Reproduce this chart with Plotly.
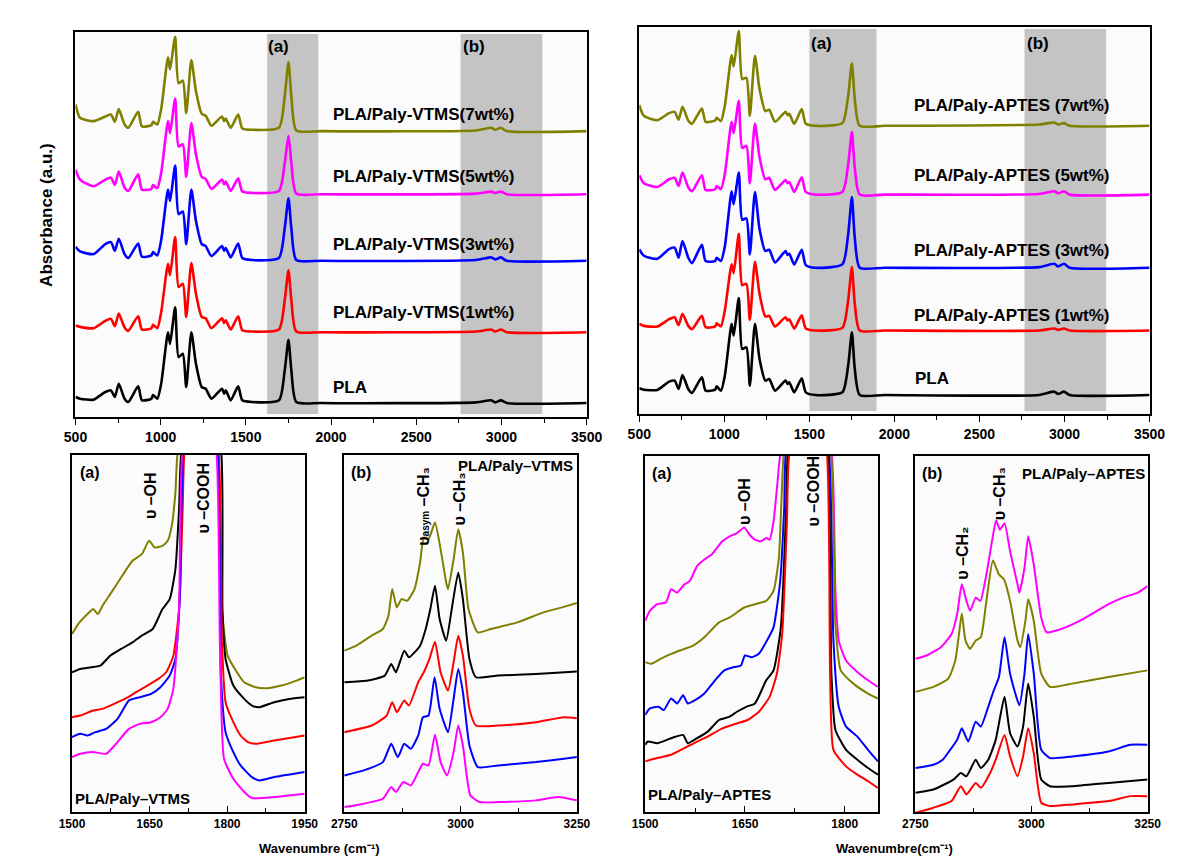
import plotly.graph_objects as go

# ---------------- Top panels: full FTIR spectra ----------------
WN_TOP = [500, 527, 606, 675, 708, 731, 754, 788, 810, 868, 890, 946, 955, 980, 1003,
          1043, 1055, 1085, 1105, 1130, 1150, 1180, 1207, 1241, 1264, 1298, 1360, 1372,
          1382, 1411, 1455, 1479, 1536, 1694, 1728, 1750, 1767, 1796, 1943, 2850, 2940,
          2963, 2997, 3031, 3500]

VTMS_PLA = [0.09, 0.065, 0.05, 0.165, 0.19, 0.09, 0.29, 0.065, 0.015, 0.25, 0.04, 0.065, 0.12, 0.065, 0.29,
            1.065, 0.89, 1.44, 0.69, 0.74, 0.24, 1.065, 0.59, 0.24, 0.215, 0.065, 0.215, 0.14,
            0.19, 0.04, 0.25, 0.04, 0.015, 0.04, 0.49, 0.95, 0.49, 0.015, 0.0, 0.01, 0.04,
            0.01, 0.04, 0.0, 0.0]
VTMS_1 = [0.10, 0.08, 0.06, 0.17, 0.20, 0.09, 0.28, 0.07, 0.02, 0.24, 0.04, 0.06, 0.11, 0.06, 0.30,
          1.03, 0.86, 1.43, 0.68, 0.73, 0.23, 1.04, 0.58, 0.23, 0.21, 0.06, 0.21, 0.14,
          0.18, 0.04, 0.24, 0.03, 0.01, 0.04, 0.48, 0.93, 0.48, 0.01, 0.0, 0.01, 0.04,
          0.01, 0.04, 0.0, 0.0]
VTMS_3 = [0.21, 0.14, 0.10, 0.25, 0.28, 0.15, 0.33, 0.10, 0.04, 0.26, 0.06, 0.08, 0.13, 0.08, 0.31,
          1.07, 0.90, 1.43, 0.70, 0.74, 0.25, 1.07, 0.60, 0.25, 0.22, 0.07, 0.22, 0.15,
          0.19, 0.05, 0.26, 0.04, 0.01, 0.04, 0.49, 0.94, 0.49, 0.01, 0.0, 0.01, 0.05,
          0.02, 0.05, 0.0, 0.0]
VTMS_5 = [0.37, 0.22, 0.12, 0.22, 0.25, 0.14, 0.34, 0.10, 0.05, 0.30, 0.07, 0.08, 0.14, 0.09, 0.32,
          1.10, 0.92, 1.44, 0.72, 0.75, 0.26, 1.07, 0.60, 0.26, 0.23, 0.08, 0.22, 0.15,
          0.19, 0.05, 0.24, 0.04, 0.02, 0.05, 0.47, 0.88, 0.47, 0.01, 0.0, 0.01, 0.04,
          0.02, 0.04, 0.0, 0.0]
VTMS_7 = [0.40, 0.20, 0.15, 0.22, 0.25, 0.14, 0.33, 0.10, 0.05, 0.29, 0.07, 0.09, 0.14, 0.10, 0.33,
          1.11, 0.93, 1.42, 0.72, 0.76, 0.27, 1.07, 0.60, 0.26, 0.23, 0.08, 0.22, 0.15,
          0.19, 0.05, 0.25, 0.04, 0.02, 0.05, 0.52, 1.04, 0.52, 0.01, 0.0, 0.01, 0.05,
          0.02, 0.05, 0.0, 0.0]
VTMS_OFFSETS = [0.0, 1.065, 2.14, 3.14, 4.09]

APTES_PLA = [0.10, 0.08, 0.075, 0.20, 0.215, 0.09, 0.30, 0.09, 0.03, 0.265, 0.065, 0.08, 0.13, 0.065, 0.29,
             1.065, 0.89, 1.45, 0.69, 0.715, 0.14, 1.065, 0.54, 0.215, 0.24, 0.065, 0.215, 0.165,
             0.19, 0.04, 0.25, 0.04, 0.0, 0.04, 0.44, 0.94, 0.39, 0.0, 0.0, 0.0, 0.05,
             0.015, 0.05, 0.0, 0.0]
APTES_1 = [0.10, 0.07, 0.06, 0.17, 0.20, 0.08, 0.25, 0.07, 0.02, 0.22, 0.05, 0.06, 0.11, 0.06, 0.30,
           0.99, 0.86, 1.45, 0.68, 0.70, 0.16, 1.03, 0.55, 0.21, 0.22, 0.06, 0.20, 0.15,
           0.17, 0.03, 0.23, 0.03, 0.0, 0.04, 0.45, 0.95, 0.40, 0.0, 0.0, 0.0, 0.03,
           0.01, 0.03, 0.0, 0.0]
APTES_3 = [0.275, 0.18, 0.135, 0.28, 0.30, 0.15, 0.40, 0.15, 0.07, 0.345, 0.10, 0.10, 0.15, 0.10, 0.32,
           1.145, 0.95, 1.425, 0.72, 0.74, 0.20, 1.135, 0.58, 0.25, 0.27, 0.08, 0.25, 0.19,
           0.21, 0.05, 0.27, 0.04, 0.0, 0.05, 0.50, 1.06, 0.45, 0.0, 0.0, 0.01, 0.06,
           0.02, 0.06, 0.0, 0.0]
APTES_5 = [0.29, 0.17, 0.115, 0.23, 0.25, 0.13, 0.33, 0.11, 0.05, 0.29, 0.07, 0.08, 0.13, 0.08, 0.31,
           1.09, 0.92, 1.405, 0.70, 0.73, 0.17, 1.065, 0.56, 0.23, 0.25, 0.07, 0.22, 0.17,
           0.19, 0.04, 0.26, 0.04, 0.0, 0.04, 0.45, 0.94, 0.40, 0.0, 0.0, 0.01, 0.05,
           0.02, 0.05, 0.0, 0.0]
APTES_7 = [0.31, 0.15, 0.085, 0.19, 0.21, 0.09, 0.285, 0.08, 0.03, 0.26, 0.06, 0.08, 0.12, 0.07, 0.30,
           1.06, 0.89, 1.42, 0.70, 0.72, 0.15, 1.05, 0.55, 0.22, 0.24, 0.06, 0.21, 0.16,
           0.18, 0.03, 0.25, 0.03, 0.0, 0.04, 0.45, 0.935, 0.40, 0.0, 0.0, 0.02, 0.05,
           0.02, 0.04, 0.0, 0.0]
APTES_OFFSETS = [0.0, 0.965, 1.905, 3.0, 4.03]

VTMS_LABELS = ["PLA", "PLA/Paly-VTMS(1wt%)", "PLA/Paly-VTMS(3wt%)", "PLA/Paly-VTMS(5wt%)", "PLA/Paly-VTMS(7wt%)"]
VTMS_LABEL_Y = [0.24, 1.365, 2.39, 3.4, 4.34]
APTES_LABELS = ["PLA", "PLA/Paly-APTES (1wt%)", "PLA/Paly-APTES (3wt%)", "PLA/Paly-APTES (5wt%)", "PLA/Paly-APTES (7wt%)"]
APTES_LABEL_Y = [0.24, 1.19, 2.165, 3.29, 4.33]

# ---------------- Bottom panel 1: VTMS, 1500-1950 ----------------
V_A_OLIVE_X = [1500, 1512, 1530, 1541, 1550, 1559, 1574, 1595, 1617, 1635, 1649, 1660, 1675, 1685, 1693, 1700, 1705,
               1750, 1781, 1790, 1801, 1819, 1833, 1855, 1876, 1905, 1934, 1950]
V_A_OLIVE_Y = [5.35, 5.65, 5.95, 6.10, 5.95, 6.20, 6.55, 7.05, 7.55, 7.75, 8.15, 7.95, 8.00, 8.15, 8.60, 9.60, 10.9,
               13, 10.9, 6.10, 4.70, 4.20, 3.90, 3.75, 3.72, 3.80, 3.95, 4.05]
V_A_BLACK_X = [1500, 1516, 1537, 1555, 1574, 1595, 1617, 1635, 1656, 1675, 1689, 1700, 1707, 1712,
               1750, 1788, 1791, 1797, 1812, 1833, 1848, 1862, 1891, 1920, 1950]
V_A_BLACK_Y = [4.20, 4.30, 4.35, 4.40, 4.70, 4.90, 5.10, 5.30, 5.50, 6.10, 6.40, 7.30, 9.10, 10.9,
               13, 10.9, 6.10, 4.60, 3.80, 3.40, 3.20, 3.15, 3.30, 3.40, 3.45]
V_A_RED_X = [1500, 1516, 1541, 1559, 1574, 1602, 1624, 1646, 1667, 1682, 1696, 1707, 1714, 1718,
             1750, 1783, 1790, 1797, 1812, 1826, 1840, 1855, 1891, 1950]
V_A_RED_Y = [2.85, 2.90, 3.05, 3.10, 3.20, 3.40, 3.60, 3.80, 4.00, 4.20, 4.70, 6.10, 9.10, 10.9,
             13, 10.9, 5.10, 3.30, 2.70, 2.30, 2.10, 2.05, 2.15, 2.30]
V_A_BLUE_X = [1500, 1516, 1530, 1545, 1566, 1588, 1610, 1631, 1653, 1671, 1689, 1700, 1709, 1716,
              1750, 1781, 1788, 1797, 1812, 1826, 1848, 1862, 1891, 1950]
V_A_BLUE_Y = [2.25, 2.35, 2.30, 2.40, 2.50, 2.80, 3.35, 3.45, 3.55, 3.75, 4.10, 4.60, 6.60, 10.9,
              13, 10.9, 4.10, 2.40, 1.80, 1.40, 1.05, 0.95, 1.05, 1.20]
V_A_MAG_X = [1500, 1516, 1541, 1566, 1588, 1610, 1631, 1653, 1671, 1685, 1696, 1707, 1714,
             1750, 1779, 1786, 1794, 1812, 1833, 1848, 1891, 1950]
V_A_MAG_Y = [1.65, 1.75, 1.80, 1.75, 2.10, 2.50, 2.65, 2.70, 2.85, 3.10, 3.70, 6.10, 10.9,
             13, 10.9, 5.10, 1.60, 1.00, 0.60, 0.42, 0.45, 0.55]

# ---------------- Bottom panel 2: VTMS, 2750-3250 ----------------
V_B_OLIVE_X = [2750, 2776, 2809, 2833, 2845, 2853, 2863, 2873, 2885, 2901, 2913, 2921, 2931, 2945, 2957, 2969,
               2973, 2985, 2995, 3005, 3017, 3037, 3065, 3122, 3178, 3218, 3250]
V_B_OLIVE_Y = [4.85, 5.00, 5.30, 5.50, 5.90, 6.70, 6.15, 6.40, 6.35, 6.70, 7.50, 8.25, 8.20, 8.70, 7.90, 6.90,
               6.70, 7.60, 8.50, 7.80, 6.10, 5.40, 5.50, 5.70, 6.00, 6.15, 6.28]
V_B_BLACK_X = [2750, 2801, 2837, 2851, 2861, 2879, 2889, 2913, 2925, 2935, 2945, 2955, 2969, 2981, 2995, 3005,
               3019, 3033, 3081, 3162, 3250]
V_B_BLACK_Y = [3.90, 3.95, 4.10, 4.45, 4.20, 4.85, 4.65, 5.00, 5.50, 6.10, 6.80, 5.80, 5.15, 6.10, 7.20, 6.40,
               4.60, 4.05, 4.10, 4.15, 4.22]
V_B_RED_X = [2750, 2809, 2841, 2853, 2863, 2879, 2889, 2909, 2921, 2933, 2945, 2957, 2973, 2985, 2995, 3005,
             3019, 3033, 3081, 3162, 3222, 3250]
V_B_RED_Y = [2.40, 2.60, 2.90, 3.30, 3.00, 3.35, 3.20, 3.90, 4.20, 4.60, 5.12, 4.20, 3.65, 4.50, 5.30, 4.70,
             3.10, 2.60, 2.60, 2.70, 2.85, 2.82]
V_B_BLUE_X = [2750, 2792, 2833, 2851, 2865, 2879, 2893, 2909, 2919, 2931, 2944, 2955, 2973, 2985, 2995, 3005,
              3019, 3037, 3081, 3162, 3222, 3250]
V_B_BLUE_Y = [1.10, 1.25, 1.50, 2.05, 1.65, 2.05, 1.90, 2.30, 2.85, 2.90, 4.05, 3.10, 2.40, 3.40, 4.30, 3.60,
              2.00, 1.35, 1.40, 1.50, 1.60, 1.65]
V_B_MAG_X = [2750, 2792, 2833, 2851, 2861, 2877, 2893, 2909, 2919, 2931, 2945, 2957, 2971, 2985, 2995, 3005,
             3021, 3041, 3081, 3162, 3210, 3250]
V_B_MAG_Y = [0.15, 0.25, 0.40, 0.75, 0.60, 0.90, 0.80, 1.20, 1.45, 1.40, 2.32, 1.50, 1.10, 1.80, 2.60, 2.00,
             0.50, 0.30, 0.30, 0.35, 0.45, 0.35]

# ---------------- Bottom panel 3: APTES, 1500-1850 ----------------
A_A_MAG_X = [1500, 1507, 1518, 1531, 1539, 1548, 1559, 1567, 1578, 1589, 1600, 1616, 1627, 1638, 1649, 1657,
             1665, 1674, 1682, 1687, 1693, 1699, 1704, 1750, 1780, 1786, 1791, 1802, 1819, 1835, 1850]
A_A_MAG_Y = [5.78, 6.08, 6.28, 6.33, 6.73, 6.63, 6.88, 6.98, 7.43, 7.63, 7.78, 8.18, 8.33, 8.43, 8.60, 8.38,
             8.23, 8.18, 8.28, 8.23, 8.78, 9.98, 10.9, 13, 10.9, 6.68, 5.18, 4.58, 4.23, 3.98, 3.78]
A_A_OLIVE_X = [1500, 1509, 1523, 1539, 1559, 1572, 1589, 1611, 1627, 1649, 1665, 1682, 1693, 1701, 1706, 1709,
               1750, 1779, 1786, 1794, 1813, 1835, 1850]
A_A_OLIVE_Y = [4.53, 4.48, 4.63, 4.78, 4.93, 5.03, 5.28, 5.73, 5.88, 6.18, 6.28, 6.38, 6.68, 7.68, 9.98, 10.9,
               13, 10.9, 5.68, 4.28, 3.88, 3.58, 3.43]
A_A_BLUE_X = [1500, 1507, 1520, 1528, 1539, 1548, 1557, 1564, 1575, 1589, 1605, 1619, 1634, 1644, 1650, 1660,
              1671, 1683, 1693, 1703, 1709, 1712, 1750, 1776, 1783, 1791, 1802, 1819, 1835, 1850]
A_A_BLUE_Y = [2.93, 3.13, 3.18, 3.08, 3.43, 3.28, 3.53, 3.28, 3.38, 3.58, 3.98, 4.28, 4.38, 4.43, 4.73, 4.68,
              4.78, 5.18, 5.58, 6.98, 9.18, 10.9, 13, 10.9, 5.18, 3.18, 2.58, 2.28, 1.88, 1.53]
A_A_BLACK_X = [1500, 1504, 1518, 1539, 1557, 1564, 1578, 1594, 1611, 1627, 1638, 1652, 1665, 1682, 1693, 1704,
               1712, 1715, 1750, 1774, 1780, 1786, 1802, 1819, 1835, 1850]
A_A_BLACK_Y = [2.03, 2.13, 2.08, 2.23, 2.33, 2.08, 2.23, 2.43, 2.78, 2.88, 3.03, 3.18, 3.28, 3.98, 4.28, 5.58,
               9.18, 10.9, 13, 10.9, 4.18, 2.48, 1.88, 1.58, 1.33, 1.13]
A_A_RED_X = [1500, 1518, 1539, 1559, 1578, 1594, 1616, 1638, 1654, 1671, 1687, 1698, 1706, 1713, 1717,
             1750, 1773, 1778, 1783, 1802, 1819, 1835, 1850]
A_A_RED_Y = [1.53, 1.63, 1.73, 1.93, 2.13, 2.28, 2.53, 2.68, 2.78, 3.03, 3.48, 4.18, 5.38, 8.68, 10.9,
             13, 10.9, 4.18, 1.88, 1.38, 1.13, 0.93, 0.73]

# ---------------- Bottom panel 4: APTES, 2750-3250 ----------------
A_B_MAG_X = [2750, 2774, 2805, 2828, 2840, 2850, 2860, 2868, 2880, 2890, 2903, 2915, 2924, 2932, 2942, 2954,
             2970, 2974, 2985, 2993, 3005, 3021, 3033, 3064, 3111, 3166, 3197, 3229, 3250]
A_B_MAG_Y = [4.63, 4.73, 4.98, 5.38, 5.98, 6.88, 6.38, 6.08, 6.48, 6.38, 7.18, 8.18, 8.81, 8.53, 8.73, 7.88,
             6.88, 6.63, 7.38, 8.33, 7.48, 5.88, 5.43, 5.53, 5.83, 6.28, 6.48, 6.63, 6.83]
A_B_OLIVE_X = [2750, 2789, 2821, 2836, 2844, 2850, 2858, 2868, 2880, 2891, 2903, 2917, 2930, 2941, 2954, 2970,
               2976, 2987, 2993, 3005, 3021, 3040, 3088, 3166, 3250]
A_B_OLIVE_Y = [3.63, 3.78, 4.03, 4.58, 5.38, 6.00, 5.18, 4.93, 5.18, 5.28, 6.38, 7.60, 7.18, 7.03, 6.38, 5.18,
               4.98, 5.78, 6.43, 5.78, 4.18, 3.78, 3.88, 4.08, 4.28]
A_B_BLUE_X = [2750, 2789, 2809, 2825, 2840, 2850, 2864, 2880, 2891, 2907, 2919, 2930, 2942, 2954, 2974, 2985,
              2993, 3005, 3021, 3040, 3088, 3166, 3213, 3250]
A_B_BLUE_Y = [1.33, 1.43, 1.58, 1.88, 2.18, 2.53, 2.13, 2.73, 2.58, 3.18, 3.68, 4.08, 5.28, 4.18, 3.23, 4.18,
              5.38, 4.18, 1.88, 1.63, 1.68, 1.83, 2.03, 2.03]
A_B_BLACK_X = [2750, 2789, 2832, 2848, 2860, 2880, 2891, 2907, 2923, 2942, 2954, 2970, 2982, 2993, 3005, 3021,
               3040, 3088, 3166, 3250]
A_B_BLACK_Y = [0.58, 0.68, 0.98, 1.18, 1.08, 1.58, 1.33, 1.58, 2.18, 3.48, 2.38, 1.98, 2.58, 3.88, 2.88, 0.98,
               0.78, 0.78, 0.88, 0.98]
A_B_RED_X = [2750, 2789, 2828, 2848, 2860, 2880, 2891, 2911, 2923, 2942, 2954, 2970, 2982, 2993, 3005, 3021,
             3040, 3088, 3166, 3213, 3250]
A_B_RED_Y = [-0.02, 0.13, 0.33, 0.78, 0.53, 0.88, 0.73, 1.18, 1.58, 2.33, 1.68, 1.08, 1.68, 2.53, 1.78, 0.28,
             0.18, 0.23, 0.33, 0.48, 0.48]

# ---------------- styles ----------------
BLACK, RED, BLUE, MAG, OLIVE = "#000000", "#ff0000", "#0000ff", "#ff00ff", "#808000"
TOP_COLORS = [BLACK, RED, BLUE, MAG, OLIVE]
FONT = "Liberation Sans, Arial, sans-serif"
BAND = "#c4c4c4"

fig = go.Figure()

# top traces
for vals, off, col in zip([VTMS_PLA, VTMS_1, VTMS_3, VTMS_5, VTMS_7], VTMS_OFFSETS, TOP_COLORS):
    fig.add_trace(go.Scatter(x=WN_TOP, y=[v + off for v in vals], mode="lines",
                             line=dict(color=col, width=2.6, shape="spline", smoothing=0.6),
                             xaxis="x", yaxis="y", showlegend=False, hoverinfo="skip"))
for vals, off, col in zip([APTES_PLA, APTES_1, APTES_3, APTES_5, APTES_7], APTES_OFFSETS, TOP_COLORS):
    fig.add_trace(go.Scatter(x=WN_TOP, y=[v + off for v in vals], mode="lines",
                             line=dict(color=col, width=2.6, shape="spline", smoothing=0.6),
                             xaxis="x2", yaxis="y2", showlegend=False, hoverinfo="skip"))

bottom_sets = [
    ("x3", "y3", [(V_A_OLIVE_X, V_A_OLIVE_Y, OLIVE), (V_A_BLACK_X, V_A_BLACK_Y, BLACK),
                  (V_A_RED_X, V_A_RED_Y, RED), (V_A_BLUE_X, V_A_BLUE_Y, BLUE), (V_A_MAG_X, V_A_MAG_Y, MAG)]),
    ("x4", "y4", [(V_B_OLIVE_X, V_B_OLIVE_Y, OLIVE), (V_B_BLACK_X, V_B_BLACK_Y, BLACK),
                  (V_B_RED_X, V_B_RED_Y, RED), (V_B_BLUE_X, V_B_BLUE_Y, BLUE), (V_B_MAG_X, V_B_MAG_Y, MAG)]),
    ("x5", "y5", [(A_A_MAG_X, A_A_MAG_Y, MAG), (A_A_OLIVE_X, A_A_OLIVE_Y, OLIVE),
                  (A_A_BLUE_X, A_A_BLUE_Y, BLUE), (A_A_BLACK_X, A_A_BLACK_Y, BLACK), (A_A_RED_X, A_A_RED_Y, RED)]),
    ("x6", "y6", [(A_B_MAG_X, A_B_MAG_Y, MAG), (A_B_OLIVE_X, A_B_OLIVE_Y, OLIVE),
                  (A_B_BLUE_X, A_B_BLUE_Y, BLUE), (A_B_BLACK_X, A_B_BLACK_Y, BLACK), (A_B_RED_X, A_B_RED_Y, RED)]),
]
for xa, ya, curves in bottom_sets:
    for xs, ys, col in curves:
        fig.add_trace(go.Scatter(x=xs, y=ys, mode="lines",
                                 line=dict(color=col, width=2, shape="spline", smoothing=0.5),
                                 xaxis=xa, yaxis=ya, showlegend=False, hoverinfo="skip"))

# ---------------- axes ----------------
def xax(domain, anchor, rng, dtick, tick0, minor_dtick, size, ticks):
    return dict(domain=domain, anchor=anchor, range=rng, showline=True, linecolor="black", linewidth=1.5,
                mirror=True, showgrid=False, zeroline=False, ticks=ticks, ticklen=6, tickwidth=1.2,
                tickcolor="black", dtick=dtick, tick0=tick0,
                minor=dict(dtick=minor_dtick, tick0=tick0, ticks=ticks, ticklen=4, tickcolor="black", showgrid=False),
                tickfont=dict(family=FONT, size=size, color="black", weight="bold"))

def yax(domain, anchor, rng):
    return dict(domain=domain, anchor=anchor, range=rng, showline=True, linecolor="black", linewidth=1.5,
                mirror=True, showgrid=False, zeroline=False, showticklabels=False, ticks="")

Y_TOP_L = [0.5146, 0.9627]
Y_TOP_R = [0.5180, 0.9686]
Y_BOT = [0.0547, 0.4703]
Y_BOT_R = [0.0547, 0.4692]

fig.update_layout(
    width=1186, height=859, margin=dict(l=0, r=0, t=0, b=0),
    paper_bgcolor="white", plot_bgcolor="#fbfbfb",
    font=dict(family=FONT, color="black"),
    xaxis=xax([0.0540, 0.4958], "y", [500, 3500], 500, 500, 250, 14, "outside"),
    yaxis=yax(Y_TOP_L, "x", [-0.21, 5.58]),
    xaxis2=xax([0.5413, 0.9823], "y2", [500, 3500], 500, 500, 250, 14, "outside"),
    yaxis2=yax(Y_TOP_R, "x2", [-0.285, 5.51]),
    xaxis3=xax([0.0510, 0.2521], "y3", [1500, 1950], 150, 1500, 75, 12, "inside"),
    yaxis3=yax(Y_BOT, "x3", [0, 10.73]),
    xaxis4=xax([0.2863, 0.4874], "y4", [2750, 3250], 250, 2750, 125, 12, "inside"),
    yaxis4=yax(Y_BOT, "x4", [0, 10.73]),
    xaxis5=xax([0.5464, 0.7476], "y5", [1500, 1850], 150, 1500, 75, 12, "inside"),
    yaxis5=yax(Y_BOT_R, "x5", [0, 10.76]),
    xaxis6=xax([0.7799, 0.9806], "y6", [2750, 3250], 250, 2750, 125, 12, "inside"),
    yaxis6=yax(Y_BOT_R, "x6", [0, 10.76]),
)

# ---------------- gray bands ----------------
BANDS = [("x", "y", 1625, 1925), ("x", "y", 2760, 3240), ("x2", "y2", 1500, 1895), ("x2", "y2", 2765, 3245)]
for xr, yr, a, b in BANDS:
    fig.add_shape(type="rect", xref=xr, yref=yr + " domain", x0=a, x1=b, y0=0.008, y1=0.995,
                  fillcolor=BAND, line=dict(width=0), layer="below")

ann = []
def txt(x, y, t, xref, yref, size, angle=0, xanchor="center", yanchor="middle"):
    ann.append(dict(x=x, y=y, text=t, xref=xref, yref=yref, showarrow=False, textangle=angle,
                    xanchor=xanchor, yanchor=yanchor,
                    font=dict(family=FONT, size=size, color="black", weight="bold")))

# top panel texts
txt(1690, 5.37, "(a)", "x", "y", 17)
txt(2838, 5.37, "(b)", "x", "y", 17)
for lab, yv in zip(VTMS_LABELS, VTMS_LABEL_Y):
    txt(2000, yv, lab, "x", "y", 17, xanchor="left")
txt(1573, 5.27, "(a)", "x2", "y2", 17)
txt(2846, 5.27, "(b)", "x2", "y2", 17)
for lab, yv in zip(APTES_LABELS, APTES_LABEL_Y):
    txt(2103 if lab != "PLA" else 2110, yv, lab, "x2", "y2", 17, xanchor="left")
txt(0.0295, 0.75, "Absorbance (a.u.)", "paper", "paper", 17, angle=-90)

# bottom panel texts
txt(1534, 10.2, "(a)", "x3", "y3", 16)
txt(1653, 9.5, "υ –OH", "x3", "y3", 16, angle=-90)
txt(1754, 9.43, "υ –COOH", "x3", "y3", 16, angle=-90)
txt(1617, 0.4, "PLA/Paly–VTMS", "x3", "y3", 15)

txt(2785, 10.2, "(b)", "x4", "y4", 16)
txt(3246, 10.4, "PLA/Paly–VTMS", "x4", "y4", 15, xanchor="right")
txt(2921, 9.2, "υ<span style='font-size:10px'>asym</span> –CH₃", "x4", "y4", 16, angle=-90)
txt(2997, 9.4, "υ –CH₃", "x4", "y4", 16, angle=-90)

txt(1526, 10.23, "(a)", "x5", "y5", 16)
txt(1649, 9.38, "υ –OH", "x5", "y5", 16, angle=-90)
txt(1753, 9.7, "υ –COOH", "x5", "y5", 16, angle=-90)
txt(1597, 0.53, "PLA/Paly–APTES", "x5", "y5", 15)

txt(2785, 10.23, "(b)", "x6", "y6", 16)
txt(3111, 10.23, "PLA/Paly–APTES", "x6", "y6", 15)
txt(2852, 7.83, "υ –CH₂", "x6", "y6", 16, angle=-90)
txt(2930, 9.63, "υ –CH₃", "x6", "y6", 16, angle=-90)

txt(314 / 1186, 1 - 848 / 859, "Wavenumbre (cm⁻¹)", "paper", "paper", 13)
txt(904 / 1186, 1 - 848 / 859, "Wavenumbre(cm⁻¹)", "paper", "paper", 13)

fig.update_layout(annotations=ann)
fig.write_html("out.html")
